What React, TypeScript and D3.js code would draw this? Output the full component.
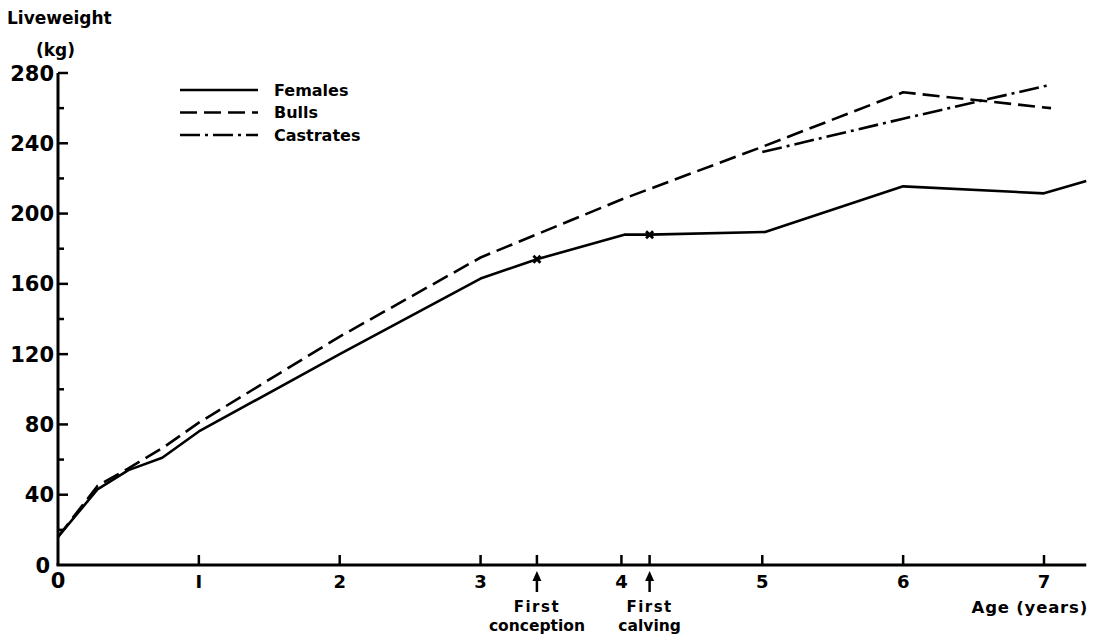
import React from "react";
import * as d3 from "d3";

const yTicks = [0, 40, 80, 120, 160, 200, 240, 280];
const yMinorTicks = [20, 60, 100, 140, 180, 220, 260];
const xTicks = [0, 1, 2, 3, 4, 5, 6, 7];

const femaleAge = [0, 0.28, 0.5, 0.74, 1, 2, 3, 3.4, 4.02, 4.2, 5.02, 6, 7, 7.3];
const femaleWeight = [16, 43, 54, 61, 76, 120, 163, 174, 188, 188, 189.5, 215.5, 211.5, 218.5];

const bullAge = [0, 0.28, 0.5, 0.75, 1, 2, 3, 4, 5, 6, 7.05];
const bullWeight = [16, 45, 55, 67, 81, 130, 175, 208, 238, 269, 260];

const castrateAge = [5, 6, 7.03];
const castrateWeight = [235, 254, 273];

const events = [
  { age: 3.4, label1: "First", label2: "conception" },
  { age: 4.2, label1: "First", label2: "calving" },
];
const markerAges = [3.4, 4.2];
const markerWeights = [174, 188];

const legendItems = ["Females", "Bulls", "Castrates"];
const legendDash = ["none", "17,7", "20,5,3,5"];

export default function App() {
  const W = 1104, H = 641;
  const x = d3.scaleLinear().domain([0, 7]).range([58, 1044]);
  const y = d3.scaleLinear().domain([0, 280]).range([565, 73]);
  const line = d3.line<[number, number]>().x((d) => x(d[0])).y((d) => y(d[1]));
  const zip = (a: number[], b: number[]) => a.map((v, i) => [v, b[i]] as [number, number]);
  const font = "'DejaVu Sans', sans-serif";
  const series = [
    { d: zip(femaleAge, femaleWeight), dash: legendDash[0] },
    { d: zip(bullAge, bullWeight), dash: legendDash[1] },
    { d: zip(castrateAge, castrateWeight), dash: legendDash[2] },
  ];
  return (
    <svg width={W} height={H} style={{ position: "absolute", left: 0, top: 0, background: "#fff" }}>
      <rect width={W} height={H} fill="#fff" />
      <line x1={x(0)} x2={x(0)} y1={y(280)} y2={y(0)} stroke="#000" strokeWidth={3} />
      <line x1={x(0) - 1.5} x2={x(7.3)} y1={y(0)} y2={y(0)} stroke="#000" strokeWidth={3} />
      {yTicks.map((t) => (
        <g key={"y" + t}>
          {t > 0 && <line x1={x(0)} x2={x(0) + 10} y1={y(t)} y2={y(t)} stroke="#000" strokeWidth={2.5} />}
          <text x={t === 0 ? 50 : 54} y={y(t)} dy="0.36em" textAnchor="end" fontFamily={font} fontWeight="bold" fontSize={21}>{t}</text>
        </g>
      ))}
      {yMinorTicks.map((t) => (
        <line key={"ym" + t} x1={x(0)} x2={x(0) + 6} y1={y(t)} y2={y(t)} stroke="#000" strokeWidth={2.5} />
      ))}
      {xTicks.map((t) => (
        <g key={"x" + t}>
          {t > 0 && <line x1={x(t)} x2={x(t)} y1={y(0)} y2={y(0) - 10} stroke="#000" strokeWidth={2.5} />}
          <text x={x(t)} y={588} textAnchor="middle" fontFamily={font} fontWeight="bold" fontSize={t === 0 ? 21 : 18}>{t === 1 ? "I" : t}</text>
        </g>
      ))}
      {events.map((e) => (
        <g key={e.label2}>
          <line x1={x(e.age)} x2={x(e.age)} y1={y(0)} y2={y(0) - 10} stroke="#000" strokeWidth={2.5} />
          <line x1={x(e.age)} x2={x(e.age)} y1={592} y2={576} stroke="#000" strokeWidth={2.5} />
          <path d={`M${x(e.age) - 4.5},${581} L${x(e.age)},${571} L${x(e.age) + 4.5},${581} Z`} fill="#000" />
          <text x={x(e.age)} y={612} textAnchor="middle" fontFamily={font} fontWeight="bold" fontSize={15} letterSpacing={1.5}>{e.label1}</text>
          <text x={x(e.age)} y={631} textAnchor="middle" fontFamily={font} fontWeight="bold" fontSize={15.5}>{e.label2}</text>
        </g>
      ))}
      <text x={1088} y={613} textAnchor="end" fontFamily={font} fontWeight="bold" fontSize={16.5} letterSpacing={0.8}>Age (years)</text>
      <text x={7} y={24} fontFamily={font} fontWeight="bold" fontSize={17}>Liveweight</text>
      <text x={36} y={56} fontFamily={font} fontWeight="bold" fontSize={17}>(kg)</text>
      {series.map((s, i) => (
        <path key={i} d={line(s.d) || ""} fill="none" stroke="#000" strokeWidth={2.6} strokeDasharray={s.dash} strokeLinejoin="round" />
      ))}
      {markerAges.map((a, i) => (
        <g key={"m" + i} transform={`translate(${x(a)},${y(markerWeights[i])})`}>
          <path d="M-3.5,-3.5L3.5,3.5M-3.5,3.5L3.5,-3.5" stroke="#000" strokeWidth={2.8} />
        </g>
      ))}
      {legendItems.map((name, i) => (
        <g key={name} transform={`translate(180,${90 + i * 22.5})`}>
          <line x1={0} x2={78} y1={0} y2={0} stroke="#000" strokeWidth={2.6} strokeDasharray={legendDash[i]} />
          <text x={94} y={0} dy="0.36em" fontFamily={font} fontWeight="bold" fontSize={16}>{name}</text>
        </g>
      ))}
    </svg>
  );
}
